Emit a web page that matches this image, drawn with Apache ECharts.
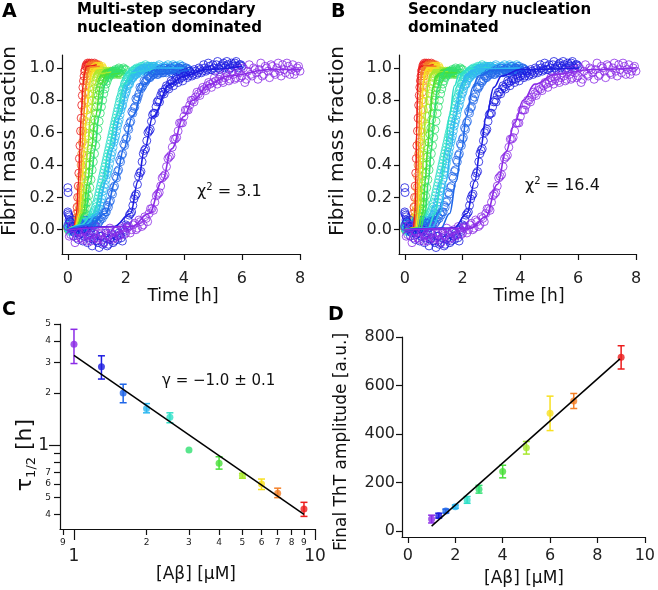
<!DOCTYPE html>
<html><head><meta charset="utf-8">
<script src="https://cdn.jsdelivr.net/npm/echarts@6/dist/echarts.min.js"></script>
<style>html,body{margin:0;padding:0;background:#fff}#c{width:658px;height:590px}</style>
</head><body><div id="c"></div>
<script>
// ---------- DATA ----------
const concs = [1, 1.3, 1.6, 2, 2.5, 3, 4, 5, 6, 7, 9];             // [Aβ] µM
const traceColors = ['#8b2be6','#1c1ce0','#2066e8','#30b8f0','#30e0c8','#30e070','#48e038','#a8e830','#f8e020','#f48028','#ec1c1c'];
const sampleStep = [0.1, 0.08, 0.07, 0.06, 0.05, 0.04, 0.03, 0.03, 0.025, 0.02, 0.02]; // h between readings

// readings at t = k*step
const frac_1 = [0.02,-0.03,0.01,-0.05,-0.02,-0.06,-0.01,-0.04,-0.07,-0.02,-0.05,-0.03,-0.06,-0.01,-0.04,-0.02,-0.05,0.00,-0.03,0.01,-0.02,0.02,0.00,0.04,0.01,0.05,0.03,0.07,0.10,0.13,0.17,0.22,0.27,0.33,0.39,0.45,0.51,0.56,0.61,0.66,0.70,0.74,0.77,0.80,0.82,0.84,0.86,0.87,0.89,0.90,0.91,0.92,0.93,0.92,0.94,0.95,0.93,0.96,0.94,0.97,0.95,0.91,0.98,0.96,1.00,0.97,0.99,0.95,1.01,0.98,1.02,0.97,1.00,0.98,1.02,0.97,1.01,0.99,0.96,1.00,0.98];
const frac_1_3 = [0.10,0.05,0.02,-0.02,0.01,-0.03,0.00,-0.04,-0.01,-0.05,-0.02,-0.06,-0.03,-0.08,-0.04,-0.09,-0.05,-0.10,-0.06,-0.03,-0.07,-0.04,-0.02,-0.05,0.00,0.03,0.06,0.10,0.15,0.21,0.28,0.35,0.42,0.49,0.55,0.61,0.67,0.72,0.76,0.80,0.83,0.85,0.87,0.88,0.90,0.91,0.92,0.93,0.93,0.94,0.95,0.96,0.95,0.97,0.96,0.98,0.97,0.99,0.98,1.00,0.99,1.01,0.99,1.00,1.02,1.00,1.01,1.03,1.01,1.02,1.00,1.02,1.03,1.01,1.02,1.01];
const frac_1_6 = [0.02,0.05,0.00,0.03,-0.01,0.02,0.04,0.00,0.02,0.03,0.01,0.04,0.02,0.03,0.05,0.04,0.06,0.07,0.09,0.11,0.14,0.18,0.22,0.27,0.32,0.37,0.42,0.47,0.52,0.57,0.62,0.67,0.72,0.76,0.80,0.84,0.87,0.89,0.91,0.93,0.94,0.95,0.96,0.97,0.96,0.97,0.98,0.97,0.98,0.99,0.98,0.97,0.99,0.98,0.99,1.00,0.98,0.99,1.00,0.99,0.98];
const frac_2 = [0.03,0.00,0.02,-0.01,0.01,0.03,0.00,0.02,0.04,0.01,0.03,0.02,0.04,0.03,0.05,0.06,0.08,0.10,0.13,0.17,0.21,0.26,0.31,0.36,0.41,0.46,0.51,0.56,0.61,0.66,0.71,0.76,0.80,0.84,0.87,0.90,0.92,0.94,0.95,0.96,0.97,0.98,0.99,0.98,0.99,1.00,0.99,1.00,1.01,1.00,0.99,1.00,1.01,1.00,0.99,1.00,1.01,1.00,0.99,1.01,1.00,1.00,1.01,0.99,1.00,1.01,1.00];
const frac_2_5 = [0.02,-0.01,0.03,0.01,0.00,0.02,0.04,0.01,0.03,0.05,0.02,0.04,0.03,0.05,0.04,0.06,0.07,0.09,0.11,0.14,0.17,0.21,0.25,0.29,0.33,0.37,0.41,0.45,0.49,0.53,0.57,0.61,0.65,0.69,0.73,0.77,0.81,0.84,0.87,0.90,0.92,0.94,0.95,0.96,0.97,0.98,0.99,0.98,0.99,1.00,0.99,1.00,1.01,1.00,0.99,1.00,1.01,1.00,0.99,1.01,1.00];
const frac_3 = [0.01,0.03,0.00,0.02,0.01,0.00,0.02,0.01,0.03,0.02,0.03,0.04,0.05,0.06,0.08,0.10,0.13,0.17,0.21,0.26,0.31,0.37,0.42,0.47,0.52,0.57,0.62,0.67,0.72,0.76,0.80,0.84,0.87,0.90,0.92,0.94,0.95,0.96,0.97,0.98,0.98,0.99,0.98,0.99,1.00,0.99,0.98,0.99,1.00,0.99,0.99];
const frac_4 = [0.02,0.00,0.01,0.00,0.02,0.01,0.00,0.01,0.02,0.01,0.02,0.02,0.03,0.03,0.04,0.05,0.06,0.08,0.10,0.13,0.16,0.20,0.25,0.30,0.35,0.40,0.45,0.50,0.54,0.59,0.63,0.68,0.72,0.76,0.80,0.83,0.86,0.88,0.90,0.92,0.93,0.94,0.95,0.96,0.96,0.97,0.96,0.97,0.97,0.96,0.97,0.98,0.97,0.96,0.97,0.98,0.97,0.96,0.97,0.97,0.96];
const frac_5 = [0.01,0.00,0.02,0.00,0.01,0.01,0.00,0.02,0.01,0.02,0.02,0.03,0.04,0.05,0.07,0.09,0.12,0.16,0.21,0.27,0.33,0.40,0.46,0.52,0.58,0.64,0.70,0.75,0.80,0.84,0.87,0.90,0.92,0.94,0.95,0.96,0.97,0.97,0.98,0.97,0.98,0.97,0.98,0.97,0.98,0.97,0.96,0.98,0.97,0.98,0.97];
const frac_6 = [0.02,0.00,0.01,0.00,0.01,0.02,0.00,0.01,0.01,0.02,0.01,0.02,0.03,0.03,0.05,0.07,0.09,0.13,0.18,0.24,0.31,0.38,0.46,0.53,0.60,0.67,0.74,0.79,0.84,0.88,0.91,0.94,0.96,0.97,0.98,0.99,1.00,0.99,1.00,1.01,1.00,0.99,1.00,1.01,1.00,0.99,1.00,1.01,1.00];
const frac_7 = [0.01,0.00,0.01,0.00,0.02,0.00,0.01,0.00,0.01,0.01,0.00,0.01,0.02,0.02,0.03,0.04,0.06,0.08,0.11,0.15,0.20,0.26,0.33,0.40,0.47,0.54,0.61,0.68,0.74,0.80,0.85,0.89,0.92,0.95,0.97,0.98,0.99,1.00,1.01,1.00,1.01,1.02,1.01,1.00,1.01,1.02,1.01,1.00,1.01,1.02,1.01,1.00,1.01,1.02,1.01,1.00];
const frac_9 = [0.01,0.00,0.02,0.00,0.01,0.00,0.01,0.01,0.00,0.01,0.02,0.02,0.03,0.05,0.07,0.10,0.14,0.20,0.27,0.35,0.44,0.52,0.61,0.69,0.77,0.83,0.88,0.92,0.95,0.98,0.99,1.01,1.02,1.01,1.03,1.02,1.02,1.03,1.02,1.01,1.02,1.03,1.02,1.02,1.01,1.02,1.03,1.02,1.01,1.02,1.02];
// interleaved readings at t = step/2 + k*step
const frac_1_mid = [-0.04,0.03,-0.08,-0.01,-0.05,0.00,-0.07,-0.03,-0.05,0.02,-0.06,-0.02,-0.08,-0.03,0.01,-0.06,-0.01,-0.04,0.02,-0.03,0.01,-0.02,0.03,0.00,0.06,0.02,0.08,0.05,0.13,0.12,0.21,0.23,0.32,0.34,0.44,0.46,0.56,0.57,0.66,0.66,0.74,0.74,0.80,0.79,0.85,0.83,0.88,0.86,0.91,0.88,0.94,0.90,0.95,0.91,0.97,0.92,0.98,0.93,0.99,0.94,1.00,0.93,1.02,0.95,0.99,0.93,1.03,0.96,1.00,0.94,1.01,0.96,1.03,0.95,0.99,1.03,0.96,1.02,0.98,1.01];
const frac_1_3_mid = [0.06,0.01,-0.04,0.02,-0.06,-0.02,-0.07,0.00,-0.08,-0.03,-0.10,-0.05,-0.07,-0.11,-0.04,-0.08,-0.02,-0.09,-0.05,-0.08,-0.01,-0.06,-0.03,-0.07,-0.01,0.02,0.09,0.11,0.19,0.22,0.33,0.36,0.47,0.50,0.60,0.62,0.71,0.72,0.79,0.79,0.85,0.84,0.89,0.87,0.92,0.89,0.94,0.91,0.96,0.92,0.97,0.94,0.98,0.95,0.99,0.96,1.00,0.97,1.02,0.98,1.03,0.99,1.02,0.98,1.04,0.99,1.02,1.00,1.04,0.99,1.03,1.01,1.04,1.00,1.02];
const frac_1_6_mid = [0.04,0.01,0.06,0.02,0.00,0.05,0.01,0.03,0.06,0.02,0.04,0.01,0.05,0.03,0.06,0.05,0.08,0.10,0.11,0.15,0.17,0.23,0.26,0.33,0.36,0.43,0.46,0.53,0.56,0.63,0.66,0.73,0.75,0.81,0.82,0.88,0.88,0.92,0.92,0.95,0.94,0.97,0.96,0.98,0.96,0.99,0.97,1.00,0.97,0.99,1.00,0.97,1.01,0.98,1.00,0.99,1.01,0.98,1.00,0.99];
const frac_2_mid = [0.01,0.04,-0.01,0.02,0.00,0.03,0.05,0.01,0.02,0.04,0.01,0.05,0.02,0.04,0.06,0.07,0.09,0.12,0.15,0.19,0.24,0.28,0.34,0.38,0.44,0.48,0.54,0.58,0.64,0.68,0.74,0.77,0.82,0.85,0.89,0.90,0.93,0.94,0.96,0.96,0.98,0.97,0.99,1.00,0.98,1.01,0.99,1.00,0.98,1.01,1.00,0.99,1.02,1.00,0.99,1.01,1.00,1.02,0.99,1.00,1.02,0.99,1.01,1.00,1.02,0.99];
const frac_2_5_mid = [0.00,0.02,0.04,-0.01,0.03,0.01,0.05,0.02,0.04,0.03,0.06,0.03,0.05,0.04,0.06,0.06,0.08,0.10,0.12,0.16,0.19,0.23,0.27,0.31,0.35,0.39,0.43,0.47,0.51,0.55,0.59,0.63,0.67,0.71,0.75,0.79,0.82,0.86,0.88,0.91,0.93,0.94,0.96,0.96,0.98,0.97,0.99,1.00,0.98,1.00,1.01,0.99,1.00,1.02,0.99,1.00,1.01,0.99,1.00,1.01];
const extraPoints_1 = [[6.45, 1.10]];
const extraPoints_1_3 = [[0.0, 0.26], [0.01, 0.23], [0.0, 0.11], [0.03, 0.09], [0.05, 0.08]];

// fits, panel A (multi-step secondary nucleation)
const fitA_1 = [[0,0],[2.2,0.02],[2.8,0.10],[3.25,0.30],[3.58,0.50],[4.0,0.70],[4.3,0.80],[4.9,0.90],[5.5,0.95],[7.0,0.99],[8.0,0.99]];
const fitA_1_3 = [[0,0],[1.6,0.02],[2.16,0.10],[2.42,0.30],[2.65,0.50],[2.93,0.70],[3.52,0.90],[4.0,0.95],[4.8,0.99],[6.0,1.01]];
const fitA_1_6 = [[0,0],[0.8,0.03],[1.30,0.10],[1.65,0.30],[1.93,0.50],[2.22,0.70],[2.66,0.90],[3.0,0.96],[4.2,0.99]];
const fitA_2 = [[0,0],[0.6,0.03],[1.02,0.10],[1.31,0.30],[1.55,0.50],[1.79,0.70],[2.10,0.90],[2.40,0.97],[3.0,1.0],[4.0,1.0]];
const fitA_2_5 = [[0,0],[0.45,0.03],[0.88,0.10],[1.21,0.30],[1.41,0.50],[1.66,0.70],[1.95,0.90],[2.2,0.97],[3.0,1.0]];
const fitA_3 = [[0,0],[0.32,0.02],[0.60,0.10],[0.79,0.30],[0.94,0.50],[1.065,0.70],[1.30,0.90],[1.52,0.97],[2.0,0.99]];
const fitA_4 = [[0,0],[0.30,0.02],[0.54,0.10],[0.69,0.30],[0.81,0.50],[0.95,0.70],[1.14,0.90],[1.32,0.96],[1.8,0.97]];
const fitA_5 = [[0,0],[0.28,0.02],[0.47,0.10],[0.585,0.30],[0.68,0.50],[0.78,0.70],[0.93,0.90],[1.08,0.965],[1.5,0.975]];
const fitA_6 = [[0,0],[0.26,0.02],[0.405,0.10],[0.495,0.30],[0.565,0.50],[0.63,0.70],[0.74,0.90],[0.83,0.97],[0.92,0.995],[1.2,1.0]];
const fitA_7 = [[0,0],[0.24,0.02],[0.355,0.10],[0.43,0.30],[0.49,0.50],[0.545,0.70],[0.625,0.90],[0.68,0.97],[0.76,1.005],[1.1,1.01]];
const fitA_9 = [[0,0],[0.22,0.02],[0.30,0.10],[0.37,0.30],[0.415,0.50],[0.46,0.70],[0.53,0.90],[0.58,0.97],[0.64,1.01],[1.0,1.02]];
// fits, panel B (secondary nucleation)
const fitB_1 = [[0,0],[2.3,0.01],[2.8,0.08],[3.2,0.28],[3.5,0.48],[3.8,0.66],[4.1,0.80],[4.5,0.90],[5.2,0.96],[6.5,0.99],[8.0,1.0]];
const fitB_1_3 = [[0,0],[1.7,0.01],[2.15,0.10],[2.42,0.30],[2.62,0.50],[2.82,0.70],[3.08,0.88],[3.35,0.95],[4.0,0.99],[6.0,1.0]];
const fitB_1_6 = [[0,0],[1.25,0.01],[1.55,0.10],[1.78,0.30],[1.97,0.50],[2.13,0.70],[2.35,0.88],[2.55,0.95],[3.0,0.985],[4.2,0.99]];
const fitB_2 = [[0,0],[0.95,0.01],[1.22,0.10],[1.43,0.30],[1.60,0.50],[1.75,0.70],[1.95,0.89],[2.12,0.96],[2.5,0.995],[4.0,1.0]];
const fitB_2_5 = [[0,0],[0.80,0.01],[1.05,0.10],[1.25,0.30],[1.40,0.50],[1.54,0.70],[1.72,0.89],[1.88,0.96],[2.2,0.995],[3.0,1.0]];
const fitB_3 = [[0,0],[0.55,0.01],[0.70,0.10],[0.82,0.30],[0.92,0.50],[1.01,0.70],[1.13,0.88],[1.25,0.96],[1.45,0.99],[2.0,0.99]];
const fitB_4 = [[0,0],[0.48,0.01],[0.62,0.10],[0.71,0.30],[0.79,0.50],[0.87,0.70],[0.97,0.88],[1.07,0.95],[1.25,0.97],[1.8,0.97]];
const fitB_5 = [[0,0],[0.42,0.01],[0.53,0.10],[0.60,0.30],[0.66,0.52],[0.72,0.73],[0.80,0.90],[0.88,0.96],[1.0,0.975],[1.5,0.975]];
const fitB_6 = [[0,0],[0.38,0.01],[0.46,0.10],[0.515,0.33],[0.55,0.53],[0.59,0.75],[0.64,0.91],[0.70,0.98],[0.80,1.0],[1.2,1.0]];
const fitB_7 = [[0,0],[0.34,0.01],[0.41,0.10],[0.455,0.33],[0.485,0.55],[0.52,0.78],[0.56,0.93],[0.60,0.99],[0.68,1.01],[1.1,1.01]];
const fitB_9 = [[0,0],[0.30,0.01],[0.35,0.10],[0.385,0.35],[0.41,0.60],[0.44,0.85],[0.47,0.97],[0.52,1.01],[1.0,1.02]];

// panel C: half times
const tHalf   = [3.82, 2.84, 2.00, 1.63, 1.45, 0.94, 0.79, 0.67, 0.60, 0.53, 0.43];
const tHalfLo = [2.96, 2.41, 1.76, 1.54, 1.35, 0.94, 0.73, 0.647, 0.557, 0.50, 0.39];
const tHalfHi = [4.66, 3.28, 2.25, 1.74, 1.54, 0.94, 0.86, 0.69, 0.64, 0.567, 0.47];
const fitC = [[1, 3.3], [9, 0.40]];
// panel D: final ThT amplitude
const amp    = [49, 63, 82, 100, 128, 172, 245, 343, 485, 536, 716];
const ampErr = [16, 10, 8, 7, 14, 16, 26, 26, 71, 31, 48];
const fitD = [[1, 20], [8.95, 710]];

// tick values
const timeTicks = [0, 2, 4, 6, 8];
const fracTicks = [0, 0.2, 0.4, 0.6, 0.8, 1.0];
const concMinorTicks = [0.9, 2, 3, 4, 5, 6, 7, 8, 9];
const concMajorTicks = [1, 10];
const tauMinorTicks = [0.4, 0.5, 0.6, 0.7, 0.8, 0.9, 2, 3, 4, 5];
const tauMinorLabels = [0.4, 0.5, 0.6, 0.7, 2, 3, 4, 5];
const tauMajorTicks = [1];
const ampTicks = [0, 200, 400, 600, 800];
const concLinTicks = [0, 2, 4, 6, 8, 10];

// ---------- BUILD ----------
const FONT = 'DejaVu Sans, Verdana, sans-serif';
const fracs = [frac_1, frac_1_3, frac_1_6, frac_2, frac_2_5, frac_3, frac_4, frac_5, frac_6, frac_7, frac_9];
const fracsMid = [frac_1_mid, frac_1_3_mid, frac_1_6_mid, frac_2_mid, frac_2_5_mid, [], [], [], [], [], []];
const extras = [extraPoints_1, extraPoints_1_3, [], [], [], [], [], [], [], [], []];
const fitsA = [fitA_1, fitA_1_3, fitA_1_6, fitA_2, fitA_2_5, fitA_3, fitA_4, fitA_5, fitA_6, fitA_7, fitA_9];
const fitsB = [fitB_1, fitB_1_3, fitB_1_6, fitB_2, fitB_2_5, fitB_3, fitB_4, fitB_5, fitB_6, fitB_7, fitB_9];
const traces = fracs.map((arr, i) => arr.map((f, k) => [+(k * sampleStep[i]).toFixed(3), f])
  .concat(fracsMid[i].map((f, k) => [+((k + 0.5) * sampleStep[i]).toFixed(3), f]))
  .concat(extras[i]));

const axLine = {show: true, onZero: false, lineStyle: {color: '#111', width: 1.2}};
const tickStyle = {color: '#111', width: 1.2};
function kinX(g) {
  return {type: 'value', gridIndex: g, min: -0.2, max: 8, position: 'bottom',
    axisLine: axLine, axisTick: {show: true, length: 6, customValues: timeTicks, lineStyle: tickStyle},
    axisLabel: {customValues: timeTicks, fontSize: 16, margin: 17, color: '#222', fontFamily: FONT},
    splitLine: {show: false}};
}
function kinY(g) {
  return {type: 'value', gridIndex: g, min: -0.15, max: 1.08, position: 'left',
    axisLine: axLine, axisTick: {show: true, length: 5, customValues: fracTicks, lineStyle: tickStyle},
    axisLabel: {customValues: fracTicks, fontSize: 16, margin: 7, color: '#222', fontFamily: FONT, formatter: v => v.toFixed(1)},
    splitLine: {show: false}};
}

const series = [];
[fitsA, fitsB].forEach((fits, g) => {
  for (let i = concs.length - 1; i >= 0; i--) {
    series.push({type: 'scatter', xAxisIndex: g, yAxisIndex: g, data: traces[i], symbol: 'circle', symbolSize: 8,
      itemStyle: {color: 'rgba(0,0,0,0)', borderColor: traceColors[i], borderWidth: 1}, silent: true});
    series.push({type: 'line', xAxisIndex: g, yAxisIndex: g, data: fits[i], smooth: 0.4, smoothMonotone: 'x',
      symbol: 'none', lineStyle: {color: traceColors[i], width: 1.6}, silent: true});
  }
});

function errBars(xIdx, yIdx, rows) {
  return {type: 'custom', xAxisIndex: xIdx, yAxisIndex: yIdx, silent: true, data: rows, encode: {x: 0, y: [1, 2]},
    renderItem: (params, api) => {
      const x = api.value(0), lo = api.value(1), hi = api.value(2), i = api.value(3);
      if (hi - lo < 1e-9) return {type: 'group', children: []};
      const p1 = api.coord([x, lo]), p2 = api.coord([x, hi]);
      const w = 3.5, st = {stroke: traceColors[i], lineWidth: 1.5};
      return {type: 'group', children: [
        {type: 'line', shape: {x1: p1[0], y1: p1[1], x2: p2[0], y2: p2[1]}, style: st},
        {type: 'line', shape: {x1: p1[0] - w, y1: p1[1], x2: p1[0] + w, y2: p1[1]}, style: st},
        {type: 'line', shape: {x1: p2[0] - w, y1: p2[1], x2: p2[0] + w, y2: p2[1]}, style: st}]};
    }};
}
// panel C
series.push({type: 'line', xAxisIndex: 2, yAxisIndex: 2, data: fitC, symbol: 'none', lineStyle: {color: '#000', width: 1.5}, silent: true});
series.push(errBars(2, 2, concs.map((c, i) => [c, tHalfLo[i], tHalfHi[i], i])));
series.push({type: 'scatter', xAxisIndex: 2, yAxisIndex: 2, symbolSize: 7, silent: true,
  data: concs.map((c, i) => ({value: [c, tHalf[i]], itemStyle: {color: traceColors[i]}}))});
// panel D
series.push({type: 'line', xAxisIndex: 4, yAxisIndex: 4, data: fitD, symbol: 'none', lineStyle: {color: '#000', width: 1.5}, silent: true});
series.push(errBars(4, 4, concs.map((c, i) => [c, amp[i] - ampErr[i], amp[i] + ampErr[i], i])));
series.push({type: 'scatter', xAxisIndex: 4, yAxisIndex: 4, symbolSize: 7, silent: true,
  data: concs.map((c, i) => ({value: [c, amp[i]], itemStyle: {color: traceColors[i]}}))});

function txt(x, y, text, font, extra, rotation) {
  return {type: 'text', x, y, rotation: rotation || 0, silent: true,
    style: Object.assign({text, font, fill: '#111', textVerticalAlign: 'middle'}, extra || {})};
}
const supRich = {a: {fontSize: 16, fontFamily: FONT, lineHeight: 19}, s: {fontSize: 10, fontFamily: FONT, verticalAlign: 'top', lineHeight: 10}};
const ROT = Math.PI / 2;

const option = {
  animation: false,
  textStyle: {fontFamily: FONT},
  grid: [
    {left: 62, top: 55, width: 238, height: 199},
    {left: 399, top: 55, width: 237, height: 199},
    {left: 60, top: 324, width: 255, height: 205},
    {left: 402, top: 337, width: 247, height: 200}
  ],
  xAxis: [
    kinX(0), kinX(1),
    {type: 'log', logBase: 10, gridIndex: 2, min: 0.875, max: 10, position: 'bottom', axisLine: axLine,
      axisTick: {show: true, length: 6, customValues: concMinorTicks, lineStyle: tickStyle},
      axisLabel: {customValues: concMinorTicks, fontSize: 9, margin: 9, color: '#222', fontFamily: FONT,
        formatter: v => v < 1 ? String(Math.round(v * 10)) : String(Math.round(v))},
      splitLine: {show: false}, minorTick: {show: false}},
    {type: 'log', logBase: 10, gridIndex: 2, min: 0.875, max: 10, position: 'bottom', axisLine: {show: false, onZero: false},
      axisTick: {show: true, length: 11, customValues: concMajorTicks, lineStyle: tickStyle},
      axisLabel: {customValues: concMajorTicks, fontSize: 17, margin: 19, color: '#222', fontFamily: FONT,
        formatter: v => String(Math.round(v))},
      splitLine: {show: false}},
    {type: 'value', gridIndex: 3, min: -0.25, max: 10, position: 'bottom', axisLine: axLine,
      axisTick: {show: true, length: 6, customValues: concLinTicks, lineStyle: tickStyle},
      axisLabel: {customValues: concLinTicks, fontSize: 16, margin: 11, color: '#222', fontFamily: FONT},
      splitLine: {show: false}}
  ],
  yAxis: [
    kinY(0), kinY(1),
    {type: 'log', logBase: 10, gridIndex: 2, min: 0.33, max: 5, position: 'left', axisLine: axLine,
      axisTick: {show: true, length: 6, customValues: tauMinorTicks, lineStyle: tickStyle},
      axisLabel: {customValues: tauMinorLabels, fontSize: 9, margin: 9, color: '#222', fontFamily: FONT,
        formatter: v => v < 1 ? String(Math.round(v * 10)) : String(Math.round(v))},
      splitLine: {show: false}, minorTick: {show: false}},
    {type: 'log', logBase: 10, gridIndex: 2, min: 0.33, max: 5, position: 'left', axisLine: {show: false, onZero: false},
      axisTick: {show: true, length: 11, customValues: tauMajorTicks, lineStyle: tickStyle},
      axisLabel: {customValues: tauMajorTicks, fontSize: 17, margin: 11, color: '#222', fontFamily: FONT,
        formatter: v => String(Math.round(v))},
      splitLine: {show: false}},
    {type: 'value', gridIndex: 3, min: -25, max: 800, position: 'left', axisLine: axLine,
      axisTick: {show: true, length: 6, customValues: ampTicks, lineStyle: tickStyle},
      axisLabel: {customValues: ampTicks, fontSize: 16, margin: 7, color: '#222', fontFamily: FONT},
      splitLine: {show: false}}
  ],
  graphic: [
    txt(2, 12, 'A', 'bold 19px ' + FONT, {fill: '#000'}),
    txt(77, 10, 'Multi-step secondary', 'bold 15px ' + FONT, {fill: '#000'}),
    txt(77, 28, 'nucleation dominated', 'bold 15px ' + FONT, {fill: '#000'}),
    txt(331, 12, 'B', 'bold 19px ' + FONT, {fill: '#000'}),
    txt(408, 10, 'Secondary nucleation', 'bold 15px ' + FONT, {fill: '#000'}),
    txt(408, 28, 'dominated', 'bold 15px ' + FONT, {fill: '#000'}),
    txt(2, 310, 'C', 'bold 19px ' + FONT, {fill: '#000'}),
    txt(328, 315, 'D', 'bold 19px ' + FONT, {fill: '#000'}),
    // axis titles
    txt(10, 141, 'Fibril mass fraction', '20px ' + FONT, {textAlign: 'center'}, ROT),
    txt(338, 141, 'Fibril mass fraction', '20px ' + FONT, {textAlign: 'center'}, ROT),
    txt(183, 297, 'Time [h]', '17px ' + FONT, {textAlign: 'center'}),
    txt(529, 297, 'Time [h]', '17px ' + FONT, {textAlign: 'center'}),
    txt(25, 455, '{t|τ}{s|1/2}{t| [h]}', '22px ' + FONT, {textAlign: 'center',
      rich: {t: {fontSize: 22, fontFamily: FONT, lineHeight: 26}, s: {fontSize: 13, fontFamily: FONT, verticalAlign: 'bottom', lineHeight: 14}}}, ROT),
    txt(196, 575, '[Aβ] [µM]', '17px ' + FONT, {textAlign: 'center'}),
    txt(342, 442, 'Final ThT amplitude [a.u.]', '17px ' + FONT, {textAlign: 'center'}, ROT),
    txt(524, 579, '[Aβ] [µM]', '17px ' + FONT, {textAlign: 'center'}),
    // annotations
    txt(197, 192, '{a|χ}{s|2}{a| = 3.1}', '16px ' + FONT, {rich: supRich}),
    txt(525, 186, '{a|χ}{s|2}{a| = 16.4}', '16px ' + FONT, {rich: supRich}),
    txt(162, 381, 'γ = −1.0 ± 0.1', '15px ' + FONT)
  ],
  series
};
const chart = echarts.init(document.getElementById('c'), null, {renderer: 'canvas'});
chart.setOption(option);
</script></body></html>
